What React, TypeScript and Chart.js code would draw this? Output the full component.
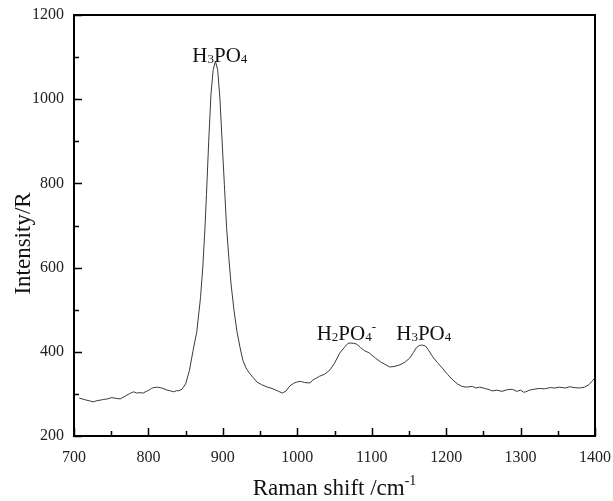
import React, { useEffect, useRef } from "react";
import { Chart, registerables } from "chart.js";

Chart.register(...registerables);

// Raman shift (cm-1) and measured intensity
const ramanShift = [
  707, 715, 722, 726, 731, 735, 740, 745, 750, 755, 762, 766, 770, 775, 780, 784, 787, 793, 797, 800,
  804, 807, 812, 818, 825, 830, 834, 838, 840, 845, 850, 855, 860, 865, 870, 873, 876, 878, 881, 884,
  887, 890, 893, 896, 899, 902, 905, 908, 911, 915, 919, 923, 927, 931, 935, 940, 946, 952, 960, 966,
  970, 975, 980, 985, 990, 995, 999, 1004, 1010, 1017, 1021, 1026, 1030, 1037, 1044, 1050, 1057, 1064, 1068, 1072,
  1076, 1080, 1085, 1090, 1097, 1105, 1112, 1118, 1124, 1130, 1138, 1145, 1151, 1156, 1160, 1164, 1168, 1172, 1176, 1182,
  1188, 1195, 1202, 1209, 1215, 1221, 1227, 1235, 1240, 1245, 1252, 1258, 1262, 1268, 1275, 1282, 1289, 1295, 1300, 1304,
  1307, 1312, 1318, 1325, 1332, 1340, 1346, 1352, 1360, 1366, 1372, 1379, 1386, 1392, 1396, 1400,
];

const intensity = [
  290, 286, 283, 281, 284, 285, 287, 288, 291, 290, 288, 292, 296, 301, 305, 302, 303, 302, 306, 308,
  313, 315, 316, 314, 309, 307, 305, 308, 307, 311, 324, 355, 403, 448, 529, 600, 695, 774, 900, 1011,
  1070, 1090, 1070, 1003, 900, 798, 695, 624, 561, 498, 448, 411, 379, 362, 351, 340, 328, 322, 316, 313,
  310, 306, 302, 307, 319, 325, 328, 330, 327, 326, 333, 338, 342, 347, 357, 373, 397, 412, 420, 421,
  420, 418, 410, 403, 397, 385, 376, 370, 364, 365, 369, 376, 385, 398, 410, 415, 416, 414, 405, 388,
  375, 361, 346, 333, 324, 318, 316, 318, 314, 316, 313, 310, 307, 309, 306, 310, 311, 306, 309, 304,
  305, 309, 311, 313, 312, 315, 314, 316, 314, 317, 315, 314, 316, 322, 330, 338,
];

const xMin = 700;
const xMax = 1400;
const xMajorStep = 100;
const xMinorStep = 50;
const yMin = 200;
const yMax = 1200;
const yMajorStep = 200;
const yMinorStep = 100;

type Part = [string, "n" | "sub" | "sup"];

// Band assignments: anchor (left edge, baseline) in data units
const bandLabels: { x: number; y: number; parts: Part[] }[] = [
  { x: 859, y: 1088, parts: [["H", "n"], ["3", "sub"], ["PO", "n"], ["4", "sub"]] },
  { x: 1026, y: 428, parts: [["H", "n"], ["2", "sub"], ["PO", "n"], ["4", "sub"], ["-", "sup"]] },
  { x: 1133, y: 428, parts: [["H", "n"], ["3", "sub"], ["PO", "n"], ["4", "sub"]] },
];

const SERIF = '"Liberation Serif", "DejaVu Serif", serif';

function drawParts(ctx: CanvasRenderingContext2D, x: number, y: number, parts: Part[], big: number, small: number) {
  let cx = x;
  ctx.textAlign = "left";
  ctx.textBaseline = "alphabetic";
  for (const [txt, kind] of parts) {
    const size = kind === "n" ? big : small;
    ctx.font = `${size}px ${SERIF}`;
    let dy = 0;
    if (kind === "sub") dy = 1;
    if (kind === "sup") dy = -big * 0.45;
    ctx.fillText(txt, cx, y + dy);
    cx += ctx.measureText(txt).width;
  }
  return cx - x;
}

function measureParts(ctx: CanvasRenderingContext2D, parts: Part[], big: number, small: number) {
  let w = 0;
  for (const [txt, kind] of parts) {
    ctx.font = `${kind === "n" ? big : small}px ${SERIF}`;
    w += ctx.measureText(txt).width;
  }
  return w;
}

const framePlugin = {
  id: "spectrumFrame",
  afterDraw(chart: any) {
    const { ctx, chartArea } = chart;
    const { left, right, top, bottom } = chartArea;
    const xs = chart.scales.x;
    const ys = chart.scales.y;
    ctx.save();

    // box frame
    ctx.strokeStyle = "#000";
    ctx.lineWidth = 2;
    ctx.strokeRect(left, top, right - left, bottom - top);

    // inward tick marks on bottom and left axes
    ctx.lineWidth = 1.5;
    ctx.beginPath();
    for (let v = xMin; v <= xMax; v += xMinorStep) {
      const px = Math.round(xs.getPixelForValue(v)) + 0.5;
      const len = v % xMajorStep === 0 ? 8 : 5;
      ctx.moveTo(px, bottom);
      ctx.lineTo(px, bottom - len);
    }
    for (let v = yMin; v <= yMax; v += yMinorStep) {
      const py = Math.round(ys.getPixelForValue(v)) + 0.5;
      const len = v % yMajorStep === 0 ? 8 : 5;
      ctx.moveTo(left, py);
      ctx.lineTo(left + len, py);
    }
    ctx.stroke();

    // band labels
    ctx.fillStyle = "#111";
    for (const lab of bandLabels) {
      drawParts(ctx, xs.getPixelForValue(lab.x), ys.getPixelForValue(lab.y), lab.parts, 21, 13);
    }

    // x axis title with superscript
    const xTitle: Part[] = [["Raman shift /cm", "n"], ["-1", "sup"]];
    const w = measureParts(ctx, xTitle, 23, 14);
    const cx = (left + right) / 2;
    drawParts(ctx, cx - w / 2, bottom + 59, xTitle, 23, 14);

    // y axis title
    ctx.save();
    ctx.translate(30, (top + bottom) / 2 + 18);
    ctx.rotate(-Math.PI / 2);
    ctx.font = `23px ${SERIF}`;
    ctx.textAlign = "center";
    ctx.textBaseline = "alphabetic";
    ctx.fillText("Intensity/R", 0, 0);
    ctx.restore();

    ctx.restore();
  },
};

export default function App() {
  const canvasRef = useRef<HTMLCanvasElement | null>(null);

  useEffect(() => {
    document.body.style.margin = "0";
    const canvas = canvasRef.current;
    if (!canvas) return;
    const chart = new Chart(canvas, {
      type: "line",
      data: {
        datasets: [
          {
            data: ramanShift.map((x, i) => ({ x, y: intensity[i] })),
            borderColor: "#3a3a3a",
            borderWidth: 1,
            pointRadius: 0,
            tension: 0,
            fill: false,
          },
        ],
      },
      options: {
        animation: false,
        responsive: true,
        maintainAspectRatio: false,
        layout: { padding: { top: 15, right: 18, left: 0, bottom: 0 } },
        plugins: { legend: { display: false }, tooltip: { enabled: false } },
        scales: {
          x: {
            type: "linear",
            min: xMin,
            max: xMax,
            grid: { display: false, drawTicks: false },
            border: { display: false },
            ticks: {
              stepSize: xMajorStep,
              padding: 12,
              color: "#222",
              font: { family: SERIF, size: 16 },
              maxRotation: 0,
              callback: (v: any) => String(v),
            },
            afterFit(scale: any) {
              scale.height = 65;
              scale.paddingLeft = 0;
              scale.paddingRight = 0;
            },
          },
          y: {
            type: "linear",
            min: yMin,
            max: yMax,
            grid: { display: false, drawTicks: false },
            border: { display: false },
            ticks: {
              stepSize: yMajorStep,
              padding: 10,
              color: "#222",
              font: { family: SERIF, size: 16 },
              callback: (v: any) => String(v),
            },
            afterFit(scale: any) {
              scale.width = 74;
              scale.paddingTop = 0;
              scale.paddingBottom = 0;
            },
          },
        },
      },
      plugins: [framePlugin],
    });
    return () => chart.destroy();
  }, []);

  return (
    <div style={{ width: 613, height: 501, position: "relative", background: "#fff" }}>
      <canvas ref={canvasRef} />
    </div>
  );
}
